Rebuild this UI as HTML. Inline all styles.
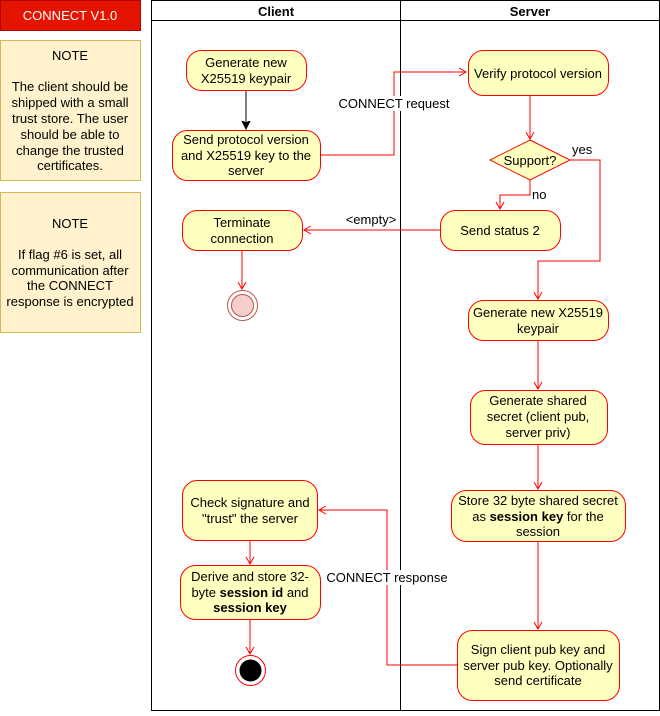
<!DOCTYPE html>
<html><head><meta charset="utf-8"><style>
html,body{margin:0;padding:0;background:#fff;}
svg text{font-family:"Liberation Sans",sans-serif;font-size:13px;fill:#000;}
</style></head><body>
<svg width="660" height="711" xmlns="http://www.w3.org/2000/svg">
<defs>
<marker id="ar" markerWidth="10" markerHeight="10" refX="8" refY="5" orient="auto" markerUnits="userSpaceOnUse"><path d="M1,1 L8,5 L1,9" fill="none" stroke="#ff0000" stroke-width="1"/></marker>
<marker id="ab" markerWidth="10" markerHeight="10" refX="8" refY="5" orient="auto" markerUnits="userSpaceOnUse"><path d="M0,1 L8,5 L0,9 L2,5 Z" fill="#000" stroke="#000"/></marker>
</defs>
<rect x="0.5" y="0.5" width="140" height="30" fill="#e51400" stroke="#b20000"/>
<text x="70" y="20" text-anchor="middle" style="fill:#fff">CONNECT V1.0</text>
<rect x="0.5" y="40.5" width="140" height="140" fill="#fff2cc" stroke="#d6b656"/>
<text text-anchor="middle"><tspan x="70" y="60">NOTE</tspan><tspan x="70" y="91">The client should be</tspan><tspan x="70" y="107">shipped with a small</tspan><tspan x="70" y="123">trust store. The user</tspan><tspan x="70" y="139">should be able to</tspan><tspan x="70" y="155">change the trusted</tspan><tspan x="70" y="170">certificates.</tspan></text>
<rect x="0.5" y="192.5" width="140" height="140" fill="#fff2cc" stroke="#d6b656"/>
<text text-anchor="middle"><tspan x="70" y="228">NOTE</tspan><tspan x="70" y="259">If flag #6 is set, all</tspan><tspan x="70" y="275">communication after</tspan><tspan x="70" y="290">the CONNECT</tspan><tspan x="70" y="306">response is encrypted</tspan></text>

<rect x="151.5" y="0.5" width="508" height="710" fill="none" stroke="#000"/>
<line x1="151" y1="20.5" x2="660" y2="20.5" stroke="#000"/>
<line x1="400.5" y1="0" x2="400.5" y2="711" stroke="#000"/>
<text x="276" y="16" text-anchor="middle" font-weight="bold">Client</text>
<text x="530" y="16" text-anchor="middle" font-weight="bold">Server</text>

<g fill="none" stroke="#ff0000">
<polyline points="320,155 394,155 394,72 466,72" marker-end="url(#ar)"/>
<line x1="530" y1="95" x2="530" y2="139" marker-end="url(#ar)"/>
<polyline points="570,160 600,160 600,261 538,261 538,299" marker-end="url(#ar)"/>
<polyline points="530,180 530,195 500,195 500,209" marker-end="url(#ar)"/>
<line x1="440" y1="230" x2="304" y2="230" marker-end="url(#ar)"/>
<line x1="242" y1="250" x2="242" y2="289" marker-end="url(#ar)"/>
<line x1="538" y1="340" x2="538" y2="389" marker-end="url(#ar)"/>
<line x1="538" y1="444" x2="538" y2="489" marker-end="url(#ar)"/>
<line x1="538" y1="541" x2="538" y2="629" marker-end="url(#ar)"/>
<polyline points="457,665 387,665 387,510 319,510" marker-end="url(#ar)"/>
<line x1="250" y1="540" x2="250" y2="564" marker-end="url(#ar)"/>
<line x1="250" y1="619" x2="250" y2="654" marker-end="url(#ar)"/>
</g>
<line x1="246" y1="90" x2="246" y2="129" stroke="#000" marker-end="url(#ab)"/>

<rect x="338" y="96" width="112" height="15" fill="#fff"/>
<text x="394" y="108" text-anchor="middle">CONNECT request</text>
<text x="572" y="154">yes</text>
<text x="532" y="199">no</text>
<rect x="345" y="212" width="53" height="14" fill="#fff"/>
<text x="371" y="224" text-anchor="middle">&lt;empty&gt;</text>
<rect x="326" y="570" width="122" height="15" fill="#fff"/>
<text x="387" y="582" text-anchor="middle">CONNECT response</text>

<g fill="#ffffc0" stroke="#ff0000">
<rect x="186.5" y="50.5" width="120" height="40" rx="15"/>
<rect x="172.5" y="130.5" width="148" height="50" rx="15"/>
<rect x="468.5" y="50.5" width="140" height="45" rx="15"/>
<polygon points="530,140 570,160 530,180 490,160"/>
<rect x="440.5" y="210.5" width="120" height="40" rx="15"/>
<rect x="182.5" y="210.5" width="120" height="40" rx="15"/>
<rect x="468.5" y="300.5" width="140" height="40" rx="15"/>
<rect x="470.5" y="390.5" width="137" height="54" rx="15"/>
<rect x="451.5" y="490.5" width="174" height="51" rx="15"/>
<rect x="457.5" y="630.5" width="162" height="70" rx="15"/>
<rect x="182.5" y="480.5" width="135" height="60" rx="15"/>
<rect x="180.5" y="565.5" width="140" height="54" rx="15"/>
</g>
<circle cx="242.5" cy="305.5" r="15" fill="#fff" stroke="#b85450"/>
<circle cx="242.5" cy="305.5" r="11" fill="#f8cecc" stroke="#b85450"/>
<circle cx="250.5" cy="670.5" r="15" fill="#fff" stroke="#ff0000"/>
<circle cx="250.5" cy="670.5" r="11" fill="#000"/>

<g text-anchor="middle">
<text><tspan x="246" y="67">Generate new</tspan><tspan x="246" y="83">X25519 keypair</tspan></text>
<text><tspan x="246" y="144">Send protocol version</tspan><tspan x="246" y="160">and X25519 key to the</tspan><tspan x="246" y="175">server</tspan></text>
<text x="538" y="78">Verify protocol version</text>
<text x="530" y="165">Support?</text>
<text x="500" y="235">Send status 2</text>
<text><tspan x="242" y="227">Terminate</tspan><tspan x="242" y="243">connection</tspan></text>
<text><tspan x="538" y="317">Generate new X25519</tspan><tspan x="538" y="333">keypair</tspan></text>
<text><tspan x="538" y="405">Generate shared</tspan><tspan x="538" y="421">secret (client pub,</tspan><tspan x="538" y="437">server priv)</tspan></text>
<text><tspan x="538" y="505">Store 32 byte shared secret</tspan><tspan x="538" y="521">as <tspan font-weight="bold">session key</tspan> for the</tspan><tspan x="538" y="536">session</tspan></text>
<text><tspan x="538" y="654">Sign client pub key and</tspan><tspan x="538" y="670">server pub key. Optionally</tspan><tspan x="538" y="685">send certificate</tspan></text>
<text><tspan x="250" y="507">Check signature and</tspan><tspan x="250" y="523">"trust" the server</tspan></text>
<text><tspan x="250" y="581">Derive and store 32-</tspan><tspan x="250" y="597">byte <tspan font-weight="bold">session id</tspan> and</tspan><tspan x="250" y="612" font-weight="bold">session key</tspan></text>
</g>
</svg>
</body></html>
